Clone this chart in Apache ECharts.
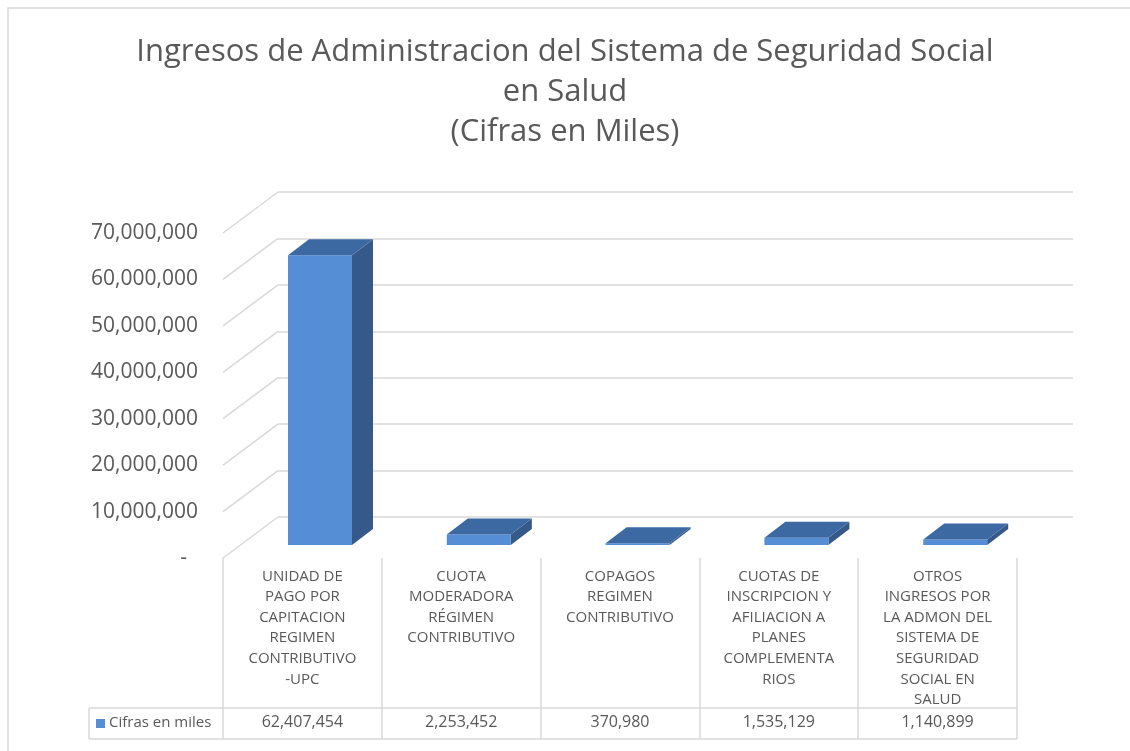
<!DOCTYPE html>
<html>
<head>
  <meta charset="utf-8">
  <title>Ingresos</title>
  <script src="https://cdn.jsdelivr.net/npm/echarts@6/dist/echarts.min.js"></script>
  <style>
    html, body { margin: 0; padding: 0; background: #fff; }
    #chart { width: 1130px; height: 751px; }
  </style>
</head>
<body>
<div id="chart"></div>
<script>
  // datos
  var categorias = [
    'UNIDAD DE\nPAGO POR\nCAPITACION\nREGIMEN\nCONTRIBUTIVO\n-UPC',
    'CUOTA\nMODERADORA\nRÉGIMEN\nCONTRIBUTIVO',
    'COPAGOS\nREGIMEN\nCONTRIBUTIVO',
    'CUOTAS DE\nINSCRIPCION Y\nAFILIACION A\nPLANES\nCOMPLEMENTA\nRIOS',
    'OTROS\nINGRESOS POR\nLA ADMON DEL\nSISTEMA DE\nSEGURIDAD\nSOCIAL EN\nSALUD'
  ];
  var cifras = [62407454, 2253452, 370980, 1535129, 1140899];
  var ticksY = [0, 10000000, 20000000, 30000000, 40000000, 50000000, 60000000, 70000000];
  var serieNombre = 'Cifras en miles';

  var gris = '#595959';
  var lineaGris = '#d9d9d9';
  var fuente = '"Open Sans", "Noto Sans", sans-serif';

  // desplazamiento de la pared del fondo (perspectiva)
  var fondoDx = 55, fondoDy = -41;

  function fmt(v) {
    return v.toLocaleString('en-US');
  }

  var chart = echarts.init(document.getElementById('chart'));

  var option = {
    backgroundColor: '#fff',
    animation: false,
    title: {
      text: 'Ingresos de Administracion del Sistema de Seguridad Social\nen Salud\n(Cifras en Miles)',
      left: 'center',
      top: 27,
      textStyle: {
        fontFamily: fuente,
        fontSize: 31,
        fontWeight: 'normal',
        color: gris,
        lineHeight: 40
      }
    },
    grid: [
      // plano frontal
      { left: 223, right: 113, top: 233, bottom: 193 },
      // pared del fondo
      { left: 278, right: 57, top: 192, bottom: 234 }
    ],
    xAxis: [
      {
        type: 'category',
        gridIndex: 0,
        data: categorias,
        axisLine: { show: false },
        axisTick: {
          show: true,
          inside: false,
          length: 181,
          lineStyle: { color: lineaGris, width: 1.5 }
        },
        axisLabel: {
          interval: 0,
          margin: 8,
          fontFamily: fuente,
          fontSize: 15,
          lineHeight: 20.6,
          color: gris,
          align: 'center'
        }
      },
      {
        type: 'category',
        gridIndex: 0,
        position: 'bottom',
        offset: 150,
        data: categorias,
        axisLine: { show: false },
        axisTick: { show: false },
        axisLabel: {
          interval: 0,
          margin: 6,
          fontFamily: fuente,
          fontSize: 16,
          color: gris,
          formatter: function (v, i) { return fmt(cifras[i]); }
        }
      },
      {
        type: 'category',
        gridIndex: 1,
        data: categorias,
        show: false
      }
    ],
    yAxis: [
      {
        type: 'value',
        gridIndex: 0,
        min: 0,
        max: 70000000,
        interval: 10000000,
        splitLine: { show: false },
        axisLine: { show: false },
        axisTick: { show: false },
        axisLabel: {
          margin: 25,
          fontFamily: fuente,
          fontSize: 21,
          color: gris,
          formatter: function (v) { return v === 0 ? '-  ' : fmt(v); }
        }
      },
      {
        type: 'value',
        gridIndex: 1,
        min: 0,
        max: 70000000,
        interval: 10000000,
        axisLine: { show: false },
        axisTick: { show: false },
        axisLabel: { show: false },
        splitLine: { show: true, lineStyle: { color: lineaGris, width: 1.5 } }
      }
    ],
    series: [
      {
        // líneas diagonales de la pared lateral
        type: 'custom',
        xAxisIndex: 0,
        yAxisIndex: 0,
        silent: true,
        z: 1,
        data: ticksY.map(function (t) { return [0, t]; }),
        renderItem: function (params, api) {
          var p = api.coord([0, api.value(1)]);
          var w = api.size([1, 0])[0];
          var x0 = p[0] - w / 2;
          return {
            type: 'line',
            shape: { x1: x0, y1: p[1], x2: x0 + fondoDx, y2: p[1] + fondoDy },
            style: { stroke: lineaGris, lineWidth: 1.5 }
          };
        }
      },
      {
        name: serieNombre,
        type: 'custom',
        xAxisIndex: 0,
        yAxisIndex: 0,
        z: 5,
        data: cifras.map(function (v, i) { return [i, v]; }),
        renderItem: function (params, api) {
          var base = api.coord([api.value(0), 0]);
          var tope = api.coord([api.value(0), api.value(1)]);
          var w = api.size([1, 0])[0];
          var bw = w * 0.403;
          var prof = 0.32;
          var ox = fondoDx * prof, oy = fondoDy * prof;
          var ddx = 21, ddy = -16;
          var fx = base[0] - bw / 2 + ox;
          var yb = base[1] + oy;
          var yt = tope[1] + oy;
          return {
            type: 'group',
            children: [
              {
                type: 'polygon',
                shape: { points: [[fx + bw, yt], [fx + bw + ddx, yt + ddy], [fx + bw + ddx, yb + ddy], [fx + bw, yb]] },
                style: { fill: '#355a8a' }
              },
              {
                type: 'rect',
                shape: { x: fx, y: yt, width: bw, height: yb - yt },
                style: { fill: '#558ed5' }
              },
              {
                type: 'polygon',
                shape: { points: [[fx, yt], [fx + bw, yt], [fx + bw + ddx, yt + ddy], [fx + ddx, yt + ddy]] },
                style: { fill: '#3d69a3' }
              }
            ]
          };
        }
      }
    ],
    graphic: [
      {
        type: 'rect',
        shape: { x: 8, y: 8, width: 1200, height: 800 },
        style: { fill: null, stroke: lineaGris, lineWidth: 1.5 },
        silent: true
      },
      {
        type: 'line',
        shape: { x1: 89, y1: 708, x2: 1017, y2: 708 },
        style: { stroke: lineaGris, lineWidth: 1.5 }
      },
      {
        type: 'line',
        shape: { x1: 89, y1: 739, x2: 1017, y2: 739 },
        style: { stroke: lineaGris, lineWidth: 1.5 }
      },
      {
        type: 'line',
        shape: { x1: 89, y1: 708, x2: 89, y2: 739 },
        style: { stroke: lineaGris, lineWidth: 1.5 }
      },
      {
        type: 'rect',
        shape: { x: 96, y: 719, width: 9, height: 9 },
        style: { fill: '#558ed5' }
      },
      {
        type: 'text',
        x: 109,
        y: 723,
        style: {
          text: serieNombre,
          font: '15px "Open Sans", "Noto Sans", sans-serif',
          fill: gris,
          textVerticalAlign: 'middle'
        }
      }
    ]
  };

  chart.setOption(option);

  window.onresize = function () {
    chart.resize();
  };
</script>
</body>
</html>
